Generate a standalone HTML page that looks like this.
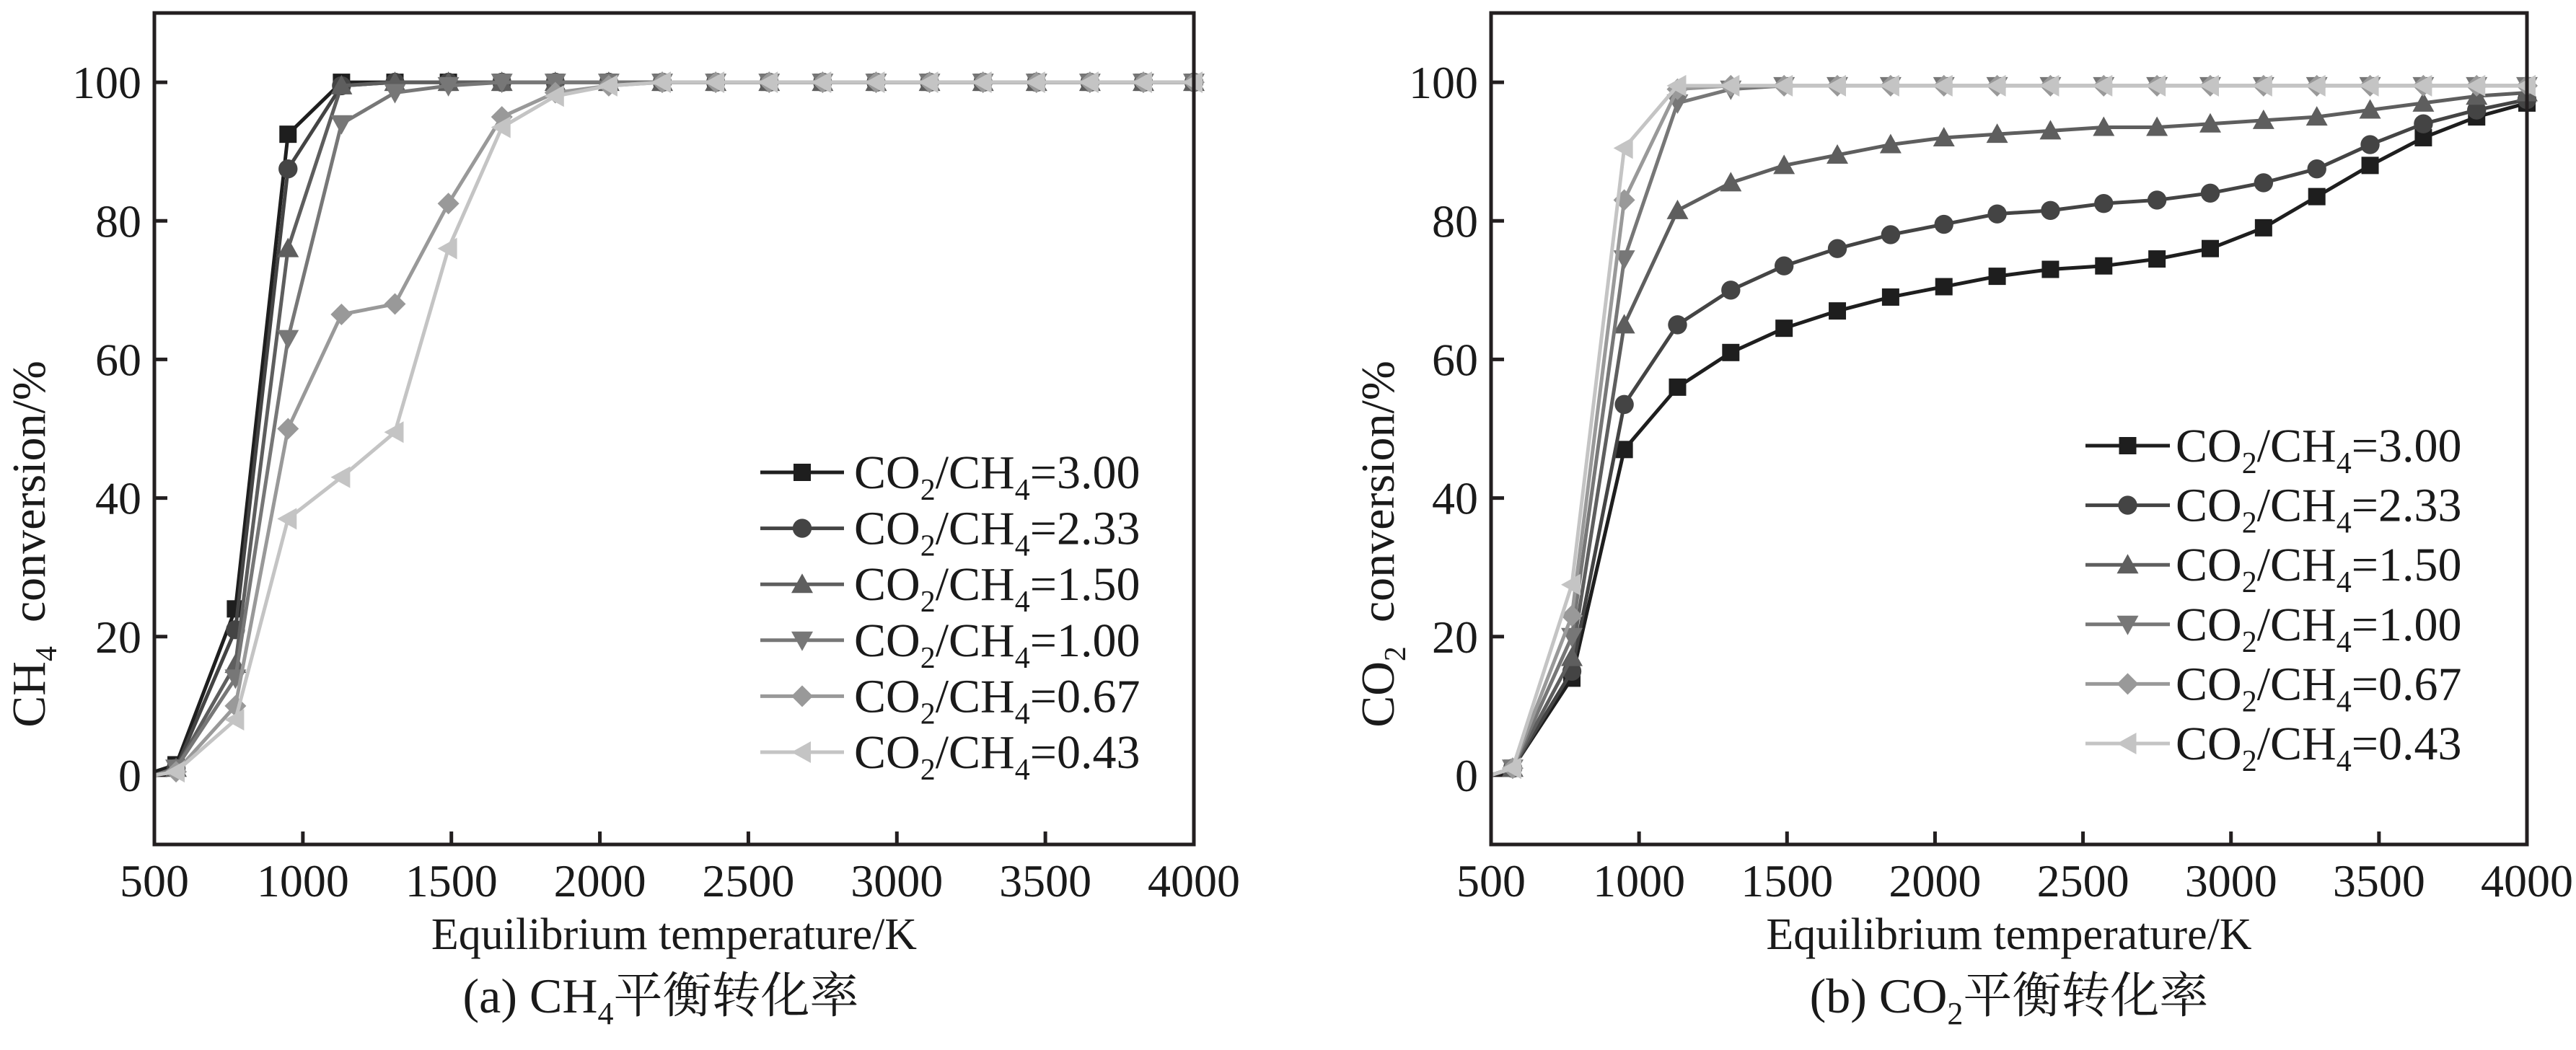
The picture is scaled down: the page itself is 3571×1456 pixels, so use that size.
<!DOCTYPE html>
<html><head><meta charset="utf-8"><style>
html,body{margin:0;padding:0;background:#fff;}
svg{display:block;font-family:"Liberation Serif","Noto Serif CJK SC",serif;}
</style></head><body>
<svg id="fig" width="3571" height="1456" viewBox="0 0 3571 1456" xmlns="http://www.w3.org/2000/svg"></svg>
<script>
const temps = [500, 573, 773, 950, 1130, 1310, 1490, 1670, 1850, 2030, 2210, 2390, 2570, 2750, 2930, 3110, 3290, 3470, 3650, 3830, 4000];
const seriesLabels = ["3.00", "2.33", "1.50", "1.00", "0.67", "0.43"];
const xTicks = [500, 1000, 1500, 2000, 2500, 3000, 3500, 4000];
const yTicks = [0, 20, 40, 60, 80, 100];
const ch4_300 = [0.5, 1.5, 24, 92.5, 100, 100, 100, 100, 100, 100, 100, 100, 100, 100, 100, 100, 100, 100, 100, 100, 100];
const ch4_233 = [0, 1, 21, 87.5, 99.5, 100, 100, 100, 100, 100, 100, 100, 100, 100, 100, 100, 100, 100, 100, 100, 100];
const ch4_150 = [0, 1, 16, 76, 99.5, 100, 100, 100, 100, 100, 100, 100, 100, 100, 100, 100, 100, 100, 100, 100, 100];
const ch4_100 = [0, 1, 14, 63, 94, 98.5, 99.5, 100, 100, 100, 100, 100, 100, 100, 100, 100, 100, 100, 100, 100, 100];
const ch4_067 = [0, 0.5, 10, 50, 66.5, 68, 82.5, 95, 98.5, 99.5, 100, 100, 100, 100, 100, 100, 100, 100, 100, 100, 100];
const ch4_043 = [0, 0.5, 8, 37, 43, 49.5, 76, 93.5, 98, 99.5, 100, 100, 100, 100, 100, 100, 100, 100, 100, 100, 100];
const co2_300 = [0, 1, 14, 47, 56, 61, 64.5, 67, 69, 70.5, 72, 73, 73.5, 74.5, 76, 79, 83.5, 88, 92, 95, 97];
const co2_233 = [0, 1, 15, 53.5, 65, 70, 73.5, 76, 78, 79.5, 81, 81.5, 82.5, 83, 84, 85.5, 87.5, 91, 94, 96, 97.5];
const co2_150 = [0, 1, 17, 65, 81.5, 85.5, 88, 89.5, 91, 92, 92.5, 93, 93.5, 93.5, 94, 94.5, 95, 96, 97, 98, 98.5];
const co2_100 = [0, 1, 20, 74.5, 97, 99, 99.5, 99.5, 99.5, 99.5, 99.5, 99.5, 99.5, 99.5, 99.5, 99.5, 99.5, 99.5, 99.5, 99.5, 99.5];
const co2_067 = [0, 1, 23, 83, 99, 99.5, 99.5, 99.5, 99.5, 99.5, 99.5, 99.5, 99.5, 99.5, 99.5, 99.5, 99.5, 99.5, 99.5, 99.5, 99.5];
const co2_043 = [0, 1, 27.5, 90.5, 99.5, 99.5, 99.5, 99.5, 99.5, 99.5, 99.5, 99.5, 99.5, 99.5, 99.5, 99.5, 99.5, 99.5, 99.5, 99.5, 99.5];

const NS = "http://www.w3.org/2000/svg";
const svg = document.getElementById('fig');
const colors = ["#1e1e1e", "#444", "#5e5e5e", "#777", "#999", "#c4c4c4"];
const shapes = ["square", "circle", "up", "down", "diamond", "left"];
function mk(tag, attrs, parent) {
  const e = document.createElementNS(NS, tag);
  for (const k in attrs) e.setAttribute(k, attrs[k]);
  (parent || svg).appendChild(e);
  return e;
}
function marker(g, shape, cx, cy, r, color) {
  let e;
  if (shape === "square") e = mk('rect', {x: cx - r, y: cy - r, width: 2 * r, height: 2 * r, fill: color}, g);
  else if (shape === "circle") e = mk('circle', {cx: cx, cy: cy, r: r * 1.1, fill: color}, g);
  else {
    let pts;
    const s = r * 1.25;
    if (shape === "up") pts = [[cx, cy - s], [cx + s, cy + s * 0.8], [cx - s, cy + s * 0.8]];
    else if (shape === "down") pts = [[cx, cy + s], [cx + s, cy - s * 0.8], [cx - s, cy - s * 0.8]];
    else if (shape === "diamond") pts = [[cx, cy - s], [cx + s, cy], [cx, cy + s], [cx - s, cy]];
    else pts = [[cx - s, cy], [cx + s * 0.8, cy - s], [cx + s * 0.8, cy + s]];
    e = mk('polygon', {points: pts.map(p => p.join(',')).join(' '), fill: color}, g);
  }
  
  
}
function legendText(g, x, y, val) {
  const t = mk('text', {x: x, y: y, 'font-size': 66, fill: '#1a1a1a'}, g);
  
  
  t.innerHTML = 'CO<tspan font-size="42" dy="16">2</tspan><tspan dy="-16">/CH</tspan><tspan font-size="42" dy="16">4</tspan><tspan dy="-16">=' + val + '</tspan>';
}
function panel(name, L, R, T, B, data, yTitleSub, yTitleX, legend, caption, capX, capSub) {
  const g = mk('g', {});
  
  
  const xs = v => L + (v - 500) / 3500 * (R - L);
  const ys = v => B - (v + 10) / 120 * (B - T);
  xTicks.forEach(v => {
    if (v > 500 && v < 4000) {
      const tk = mk('line', {x1: xs(v), x2: xs(v), y1: B, y2: B - 18, stroke: '#231f20', 'stroke-width': 5}, g);
      
      
    }
    const tl = mk('text', {x: xs(v), y: B + 72, 'font-size': 64, 'text-anchor': 'middle', fill: '#1a1a1a'}, g);
    
    
    tl.textContent = v;
  });
  yTicks.forEach(v => {
    const tk = mk('line', {x1: L, x2: L + 18, y1: ys(v), y2: ys(v), stroke: '#231f20', 'stroke-width': 5}, g);
    
    
    const tl = mk('text', {x: L - 18, y: ys(v) + 22, 'font-size': 64, 'text-anchor': 'end', fill: '#1a1a1a'}, g);
    
    
    tl.textContent = v;
  });
  const xt = mk('text', {x: (L + R) / 2, y: 1316, 'font-size': 62, 'text-anchor': 'middle', fill: '#1a1a1a'}, g);
  
  
  xt.textContent = 'Equilibrium temperature/K';
  const yt = mk('text', {x: 0, y: 0, 'font-size': 66, 'text-anchor': 'middle', fill: '#1a1a1a', transform: 'translate(' + yTitleX + ',' + ((T + B) / 2 + 160) + ') rotate(-90)'}, g);
  
  
  yt.innerHTML = yTitleSub[0] + '<tspan font-size="42" dy="16">' + yTitleSub[1] + '</tspan><tspan dy="-16" xml:space="preserve">  conversion/%</tspan>';
  for (let i = 0; i < data.length; i++) {
    const sg = mk('g', {}, g);
    
    
    const d = data[i];
    const pts = temps.map((t, j) => xs(t) + ',' + ys(d[j])).join(' ');
    const pl = mk('polyline', {points: pts, fill: 'none', stroke: colors[i], 'stroke-width': 5}, sg);
    
    
    temps.forEach((t, j) => { if (t > 500) marker(sg, shapes[i], xs(t), ys(d[j]), 12, colors[i]); });
  }
  const frame = mk('rect', {x: L, y: T, width: R - L, height: B - T, fill: 'none', stroke: '#231f20', 'stroke-width': 5}, g);
  
  
  const lg = mk('g', {}, g);
  
  
  seriesLabels.forEach((lab, i) => {
    const y = legend.y0 + i * legend.dy;
    const eg = mk('g', {}, lg);
    
    
    const ln = mk('line', {x1: legend.x1, x2: legend.x2, y1: y, y2: y, stroke: colors[i], 'stroke-width': 5}, eg);
    
    
    marker(eg, shapes[i], (legend.x1 + legend.x2) / 2, y, 12, colors[i]);
    legendText(eg, legend.tx, y + 22, lab);
  });
  const cp = mk('text', {x: capX, y: 1404, 'font-size': 68, 'text-anchor': 'middle', fill: '#1a1a1a'}, g);
  
  
  cp.innerHTML = caption + '<tspan font-size="44" dy="16">' + capSub + '</tspan><tspan dy="-16">平衡转化率</tspan>';
}
panel('panel-a-ch4', 214, 1655, 18, 1171, [ch4_300, ch4_233, ch4_150, ch4_100, ch4_067, ch4_043], ['CH', '4'], 62,
  {x1: 1054, x2: 1170, tx: 1184, y0: 655, dy: 77.6}, '(a) CH', 916, '4');
panel('panel-b-co2', 2067, 3503, 18, 1171, [co2_300, co2_233, co2_150, co2_100, co2_067, co2_043], ['CO', '2'], 1932,
  {x1: 2891, x2: 3008, tx: 3016, y0: 618, dy: 82.6}, '(b) CO', 2785, '2');
</script>
</body></html>
